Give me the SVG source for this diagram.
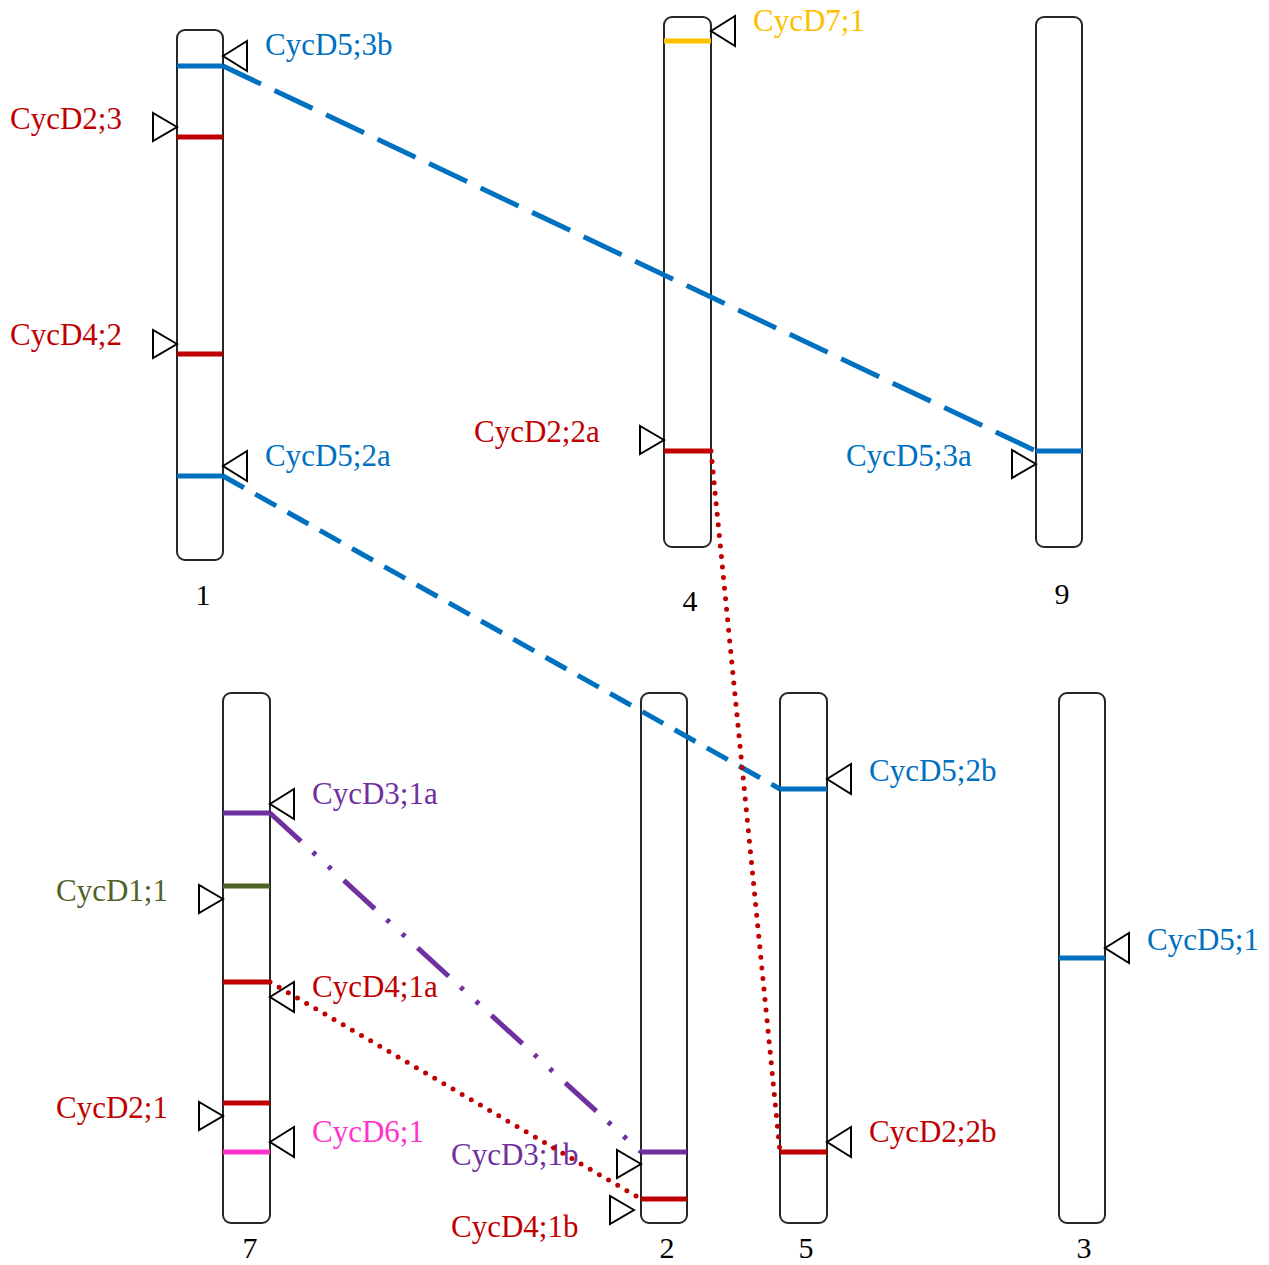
<svg xmlns="http://www.w3.org/2000/svg" width="1269" height="1265" viewBox="0 0 1269 1265">
  <style>
    .chr { fill: #ffffff; stroke: #262626; stroke-width: 2; }
    .band { stroke-width: 5; fill: none; }
    .tri { fill: #ffffff; stroke: #000000; stroke-width: 2; stroke-linejoin: miter; }
    text { font-family: "Liberation Serif", "Times New Roman", serif; font-size: 31px; }
    .num { fill: #000000; text-anchor: middle; font-size: 30px; }
    .blue { fill: #0070C0; stroke: #0070C0; }
    .red { fill: #C00000; stroke: #C00000; }
    .yellow { fill: #FFC000; stroke: #FFC000; }
    .purple { fill: #7030A0; stroke: #7030A0; }
    .green { fill: #4F6228; stroke: #4F6228; }
    .pink { fill: #FF33CC; stroke: #FF33CC; }
    text.blue, text.red, text.yellow, text.purple, text.green, text.pink { stroke: none; }
    .link { fill: none; stroke-width: 5; }
    .dash-long { stroke-dasharray: 42 15; }
    .dash-short { stroke-dasharray: 24 13; }
    .dotted { stroke-dasharray: 0 10.6; stroke-linecap: round; }
    .dashdotdot { stroke-dasharray: 42 16 4 17 4 17; }
  </style>
  <defs>
    <!-- marker triangles: tip at origin -->
    <polygon id="triL" class="tri" points="0,0 24,-15 24,15"/>
    <polygon id="triR" class="tri" points="0,0 -24,-14 -24,14"/>
  </defs>

  <!-- Chromosome 1 -->
  <g id="chr1">
    <rect class="chr" x="177" y="30" width="46" height="530" rx="8"/>
    <line class="band blue" x1="177" y1="66" x2="223" y2="66"/>
    <line class="band red" x1="177" y1="137" x2="223" y2="137"/>
    <line class="band red" x1="177" y1="354" x2="223" y2="354"/>
    <line class="band blue" x1="177" y1="476" x2="223" y2="476"/>
    <text class="num" x="203" y="605">1</text>
  </g>

  <!-- Chromosome 4 -->
  <g id="chr4">
    <rect class="chr" x="664" y="17" width="47" height="530" rx="8"/>
    <line class="band yellow" x1="664" y1="41" x2="711" y2="41"/>
    <line class="band red" x1="664" y1="451" x2="711" y2="451"/>
    <text class="num" x="690" y="611">4</text>
  </g>

  <!-- Chromosome 9 -->
  <g id="chr9">
    <rect class="chr" x="1036" y="17" width="46" height="530" rx="8"/>
    <line class="band blue" x1="1036" y1="451" x2="1082" y2="451"/>
    <text class="num" x="1062" y="604">9</text>
  </g>

  <!-- Chromosome 7 -->
  <g id="chr7">
    <rect class="chr" x="223" y="693" width="47" height="530" rx="8"/>
    <line class="band purple" x1="223" y1="813" x2="270" y2="813"/>
    <line class="band green" x1="223" y1="886" x2="270" y2="886"/>
    <line class="band red" x1="223" y1="982" x2="270" y2="982"/>
    <line class="band red" x1="223" y1="1103" x2="270" y2="1103"/>
    <line class="band pink" x1="223" y1="1152" x2="270" y2="1152"/>
    <text class="num" x="250" y="1258">7</text>
  </g>

  <!-- Chromosome 2 -->
  <g id="chr2">
    <rect class="chr" x="641" y="693" width="46" height="530" rx="8"/>
    <line class="band purple" x1="641" y1="1152" x2="687" y2="1152"/>
    <line class="band red" x1="641" y1="1199" x2="687" y2="1199"/>
    <text class="num" x="667" y="1258">2</text>
  </g>

  <!-- Chromosome 5 -->
  <g id="chr5">
    <rect class="chr" x="780" y="693" width="47" height="530" rx="8"/>
    <line class="band blue" x1="780" y1="789" x2="827" y2="789"/>
    <line class="band red" x1="780" y1="1152" x2="827" y2="1152"/>
    <text class="num" x="806" y="1258">5</text>
  </g>

  <!-- Chromosome 3 -->
  <g id="chr3">
    <rect class="chr" x="1059" y="693" width="46" height="530" rx="8"/>
    <line class="band blue" x1="1059" y1="958" x2="1105" y2="958"/>
    <text class="num" x="1084" y="1258">3</text>
  </g>

  <!-- Gene markers and labels -->
  <g id="gene-CycD5-3b">
    <use href="#triL" x="223" y="56"/>
    <text class="blue" x="265" y="55">CycD5;3b</text>
  </g>
  <g id="gene-CycD2-3">
    <use href="#triR" x="177" y="127"/>
    <text class="red" x="10" y="129">CycD2;3</text>
  </g>
  <g id="gene-CycD4-2">
    <use href="#triR" x="177" y="344"/>
    <text class="red" x="10" y="345">CycD4;2</text>
  </g>
  <g id="gene-CycD5-2a">
    <use href="#triL" x="223" y="466"/>
    <text class="blue" x="265" y="466">CycD5;2a</text>
  </g>
  <g id="gene-CycD7-1">
    <use href="#triL" x="711" y="31"/>
    <text class="yellow" x="753" y="31">CycD7;1</text>
  </g>
  <g id="gene-CycD2-2a">
    <use href="#triR" x="664" y="440"/>
    <text class="red" x="474" y="442">CycD2;2a</text>
  </g>
  <g id="gene-CycD5-3a">
    <use href="#triR" x="1036" y="464"/>
    <text class="blue" x="846" y="466">CycD5;3a</text>
  </g>
  <g id="gene-CycD5-2b">
    <use href="#triL" x="827" y="779"/>
    <text class="blue" x="869" y="781">CycD5;2b</text>
  </g>
  <g id="gene-CycD5-1">
    <use href="#triL" x="1105" y="948"/>
    <text class="blue" x="1147" y="950">CycD5;1</text>
  </g>
  <g id="gene-CycD2-2b">
    <use href="#triL" x="827" y="1142"/>
    <text class="red" x="869" y="1142">CycD2;2b</text>
  </g>
  <g id="gene-CycD3-1a">
    <use href="#triL" x="270" y="804"/>
    <text class="purple" x="312" y="804">CycD3;1a</text>
  </g>
  <g id="gene-CycD1-1">
    <use href="#triR" x="223" y="899"/>
    <text class="green" x="56" y="901">CycD1;1</text>
  </g>
  <g id="gene-CycD4-1a">
    <use href="#triL" x="270" y="997"/>
    <text class="red" x="312" y="997">CycD4;1a</text>
  </g>
  <g id="gene-CycD2-1">
    <use href="#triR" x="223" y="1116"/>
    <text class="red" x="56" y="1118">CycD2;1</text>
  </g>
  <g id="gene-CycD6-1">
    <use href="#triL" x="270" y="1142"/>
    <text class="pink" x="312" y="1142">CycD6;1</text>
  </g>
  <g id="gene-CycD3-1b">
    <use href="#triR" x="641" y="1164"/>
    <text class="purple" x="451" y="1165">CycD3;1b</text>
  </g>
  <g id="gene-CycD4-1b">
    <use href="#triR" x="634" y="1210"/>
    <text class="red" x="451" y="1237">CycD4;1b</text>
  </g>

  <!-- Duplication links -->
  <g id="links">
    <line class="link blue dash-long" x1="223" y1="66" x2="1036" y2="451"/>
    <line class="link blue dash-short" x1="223" y1="476" x2="780" y2="789"/>
    <line class="link red dotted" x1="711" y1="451" x2="780" y2="1152"/>
    <line class="link purple dashdotdot" x1="270" y1="813" x2="641" y2="1152"/>
    <line class="link red dotted" x1="270" y1="982" x2="641" y2="1199"/>
  </g>
</svg>
